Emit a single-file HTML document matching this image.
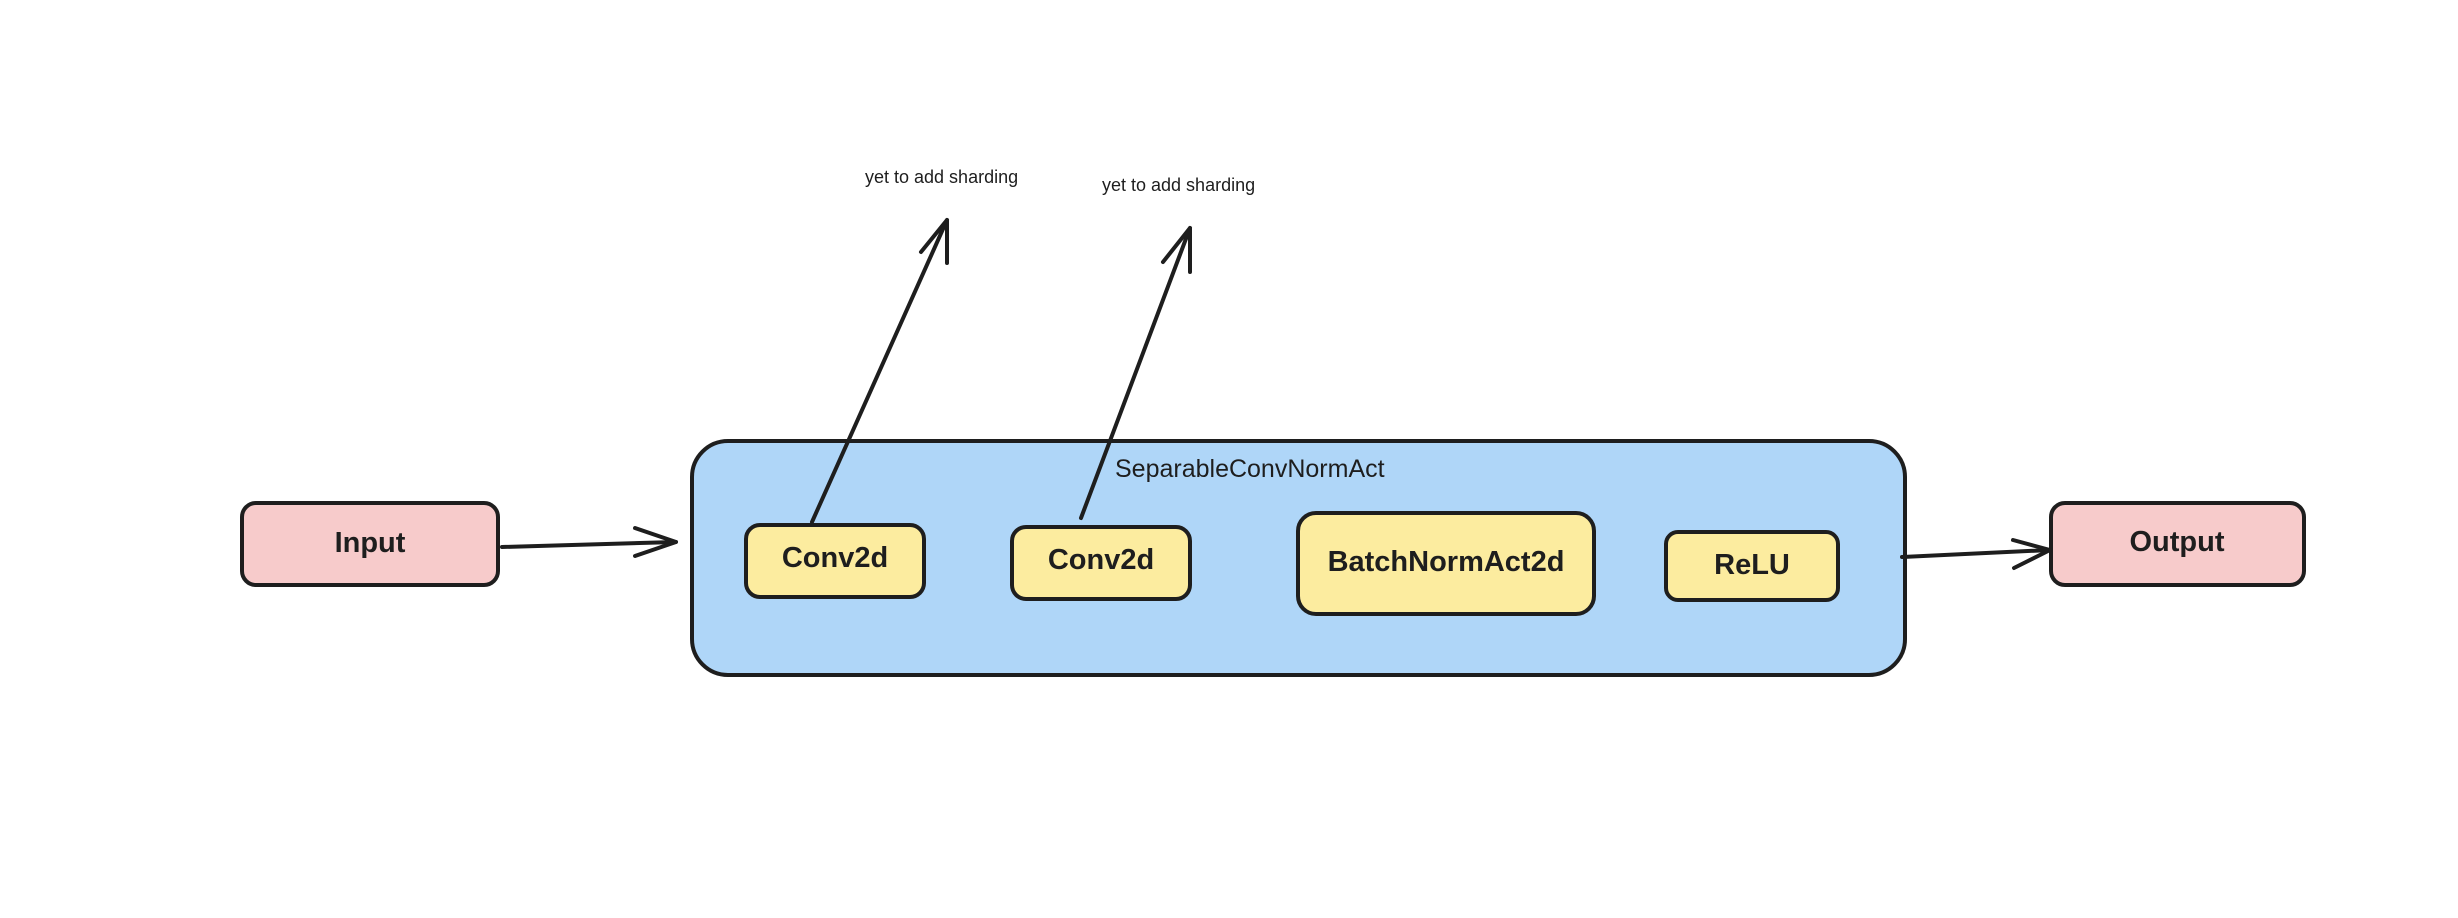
<!DOCTYPE html>
<html><head><meta charset="utf-8"><style>
html,body{margin:0;padding:0;background:#fff;}
svg{display:block;}
text{font-family:"Liberation Sans",sans-serif;fill:#1e1e1e;}
</style></head><body>
<svg width="2458" height="918" viewBox="0 0 2458 918" xmlns="http://www.w3.org/2000/svg">
<rect width="2458" height="918" fill="#fff"/>
<g stroke="#1e1e1e" stroke-width="4" stroke-linecap="round" stroke-linejoin="round">
<rect x="692" y="441" width="1213" height="234" rx="36" fill="#afd6f8"/>
<rect x="242" y="503" width="256" height="82" rx="14" fill="#f7cbcb"/>
<rect x="2051" y="503" width="253" height="82" rx="14" fill="#f7cbcb"/>
<rect x="746" y="525" width="178" height="72" rx="14" fill="#fcec9f"/>
<rect x="1012" y="527" width="178" height="72" rx="14" fill="#fcec9f"/>
<rect x="1298" y="513" width="296" height="101" rx="18" fill="#fcec9f"/>
<rect x="1666" y="532" width="172" height="68" rx="12" fill="#fcec9f"/>
<g fill="none">
<path d="M502 547 L676 542"/>
<path d="M635 528 L676 542 L635 556"/>
<path d="M1902 557 L2050 550"/>
<path d="M2013 540 L2050 550 L2014 568"/>
<path d="M812 522 L947 220"/>
<path d="M921 252 L947 220 L947 263"/>
<path d="M1081 518 L1190 228"/>
<path d="M1163 262 L1190 228 L1190 272"/>
</g>
</g>
<g font-size="29" text-anchor="middle" font-weight="bold">
<text x="370" y="552">Input</text>
<text x="2177" y="551">Output</text>
<text x="835" y="567">Conv2d</text>
<text x="1101" y="569">Conv2d</text>
<text x="1446" y="571">BatchNormAct2d</text>
<text x="1752" y="574">ReLU</text>
</g>
<text x="1115" y="477" font-size="25">SeparableConvNormAct</text>
<text x="865" y="183" font-size="18">yet to add sharding</text>
<text x="1102" y="191" font-size="18">yet to add sharding</text>
</svg>
</body></html>
